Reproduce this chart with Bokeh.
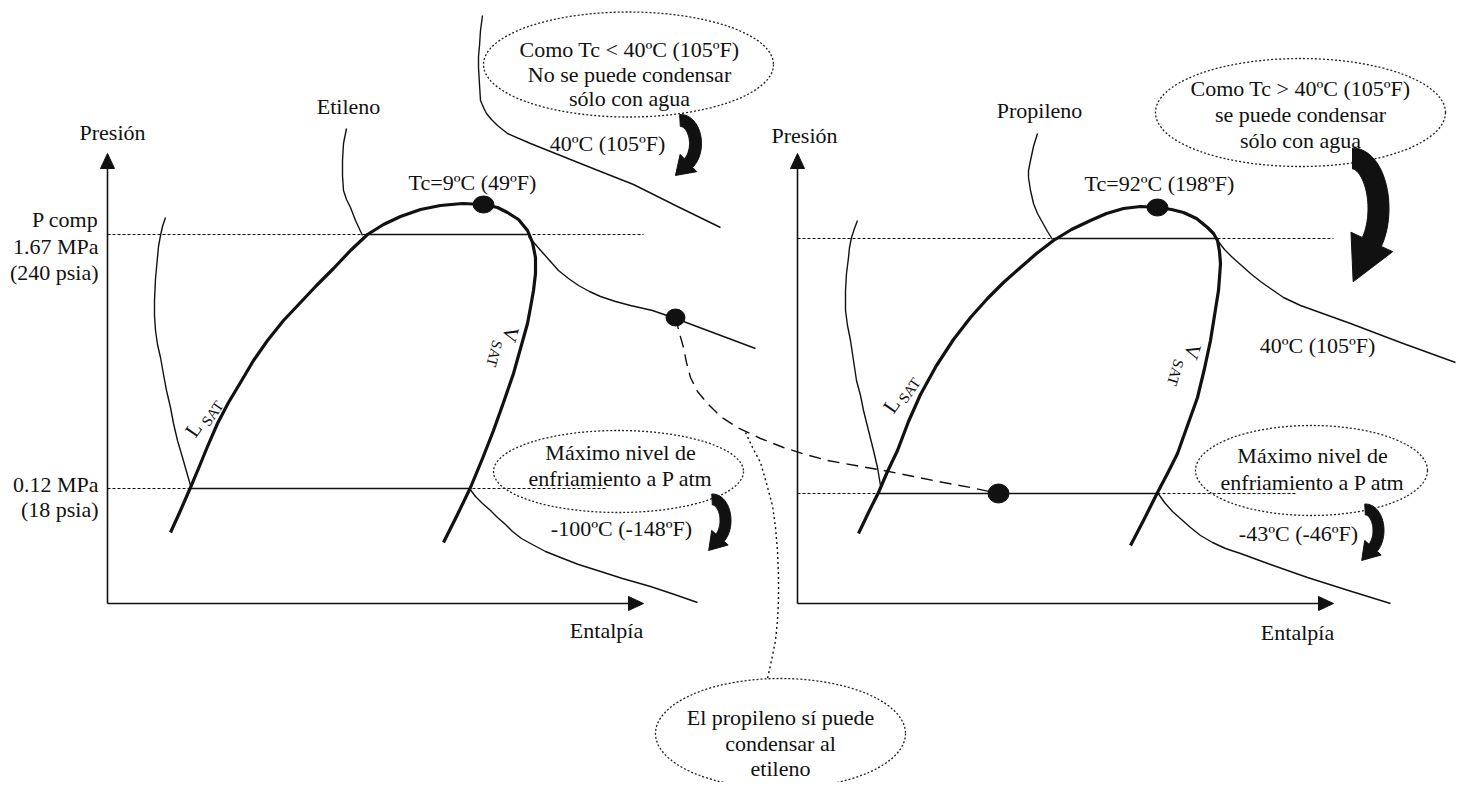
import numpy as np
from bokeh.plotting import figure
from bokeh.models import Range1d
from bokeh.core.properties import value
from bokeh.embed import file_html
from bokeh.resources import INLINE

# ---------------- schematic data (diagram units; y measured downward from the top) ----------------
# Left panel: Etileno
eti_dome_x = [170, 180, 190, 198, 207, 217, 228, 240, 253, 267, 283, 300, 316, 333, 350, 367, 383, 400, 420, 440,
              462, 483, 497, 507, 518, 527, 532, 535, 535, 533, 530, 527, 520, 513, 503, 493, 482, 470, 457, 443]
eti_dome_y = [532, 510, 487, 468, 446, 423, 402, 382, 360, 340, 320, 302, 285, 268, 250, 234, 224, 216, 209, 205,
              203, 204, 207, 212, 219, 230, 242, 257, 273, 290, 307, 323, 348, 373, 402, 430, 458, 487, 514, 542]
eti_liq_x = [165, 162, 160, 158, 157, 155, 154, 154, 155, 157, 160, 163, 166, 170, 173, 177, 182, 186, 190]
eti_liq_y = [217, 226, 235, 246, 257, 278, 300, 315, 330, 344, 357, 374, 390, 407, 423, 440, 457, 471, 485]
eti_leader_x = [346, 343, 342, 342, 343, 346, 350, 355, 362]
eti_leader_y = [128, 143, 160, 175, 190, 199, 207, 220, 235]
eti_iso40_x = [482, 480, 479, 478, 478, 479, 480, 483, 486, 491, 497, 502, 507, 530, 560, 595, 633, 675, 720]
eti_iso40_y = [15, 30, 45, 56, 67, 84, 100, 107, 113, 119, 125, 129, 133, 143, 155, 169, 184, 205, 227]
eti_isoP_x = [528, 535, 542, 550, 558, 568, 578, 589, 600, 615, 630, 652, 675, 715, 755]
eti_isoP_y = [236, 244, 252, 261, 270, 278, 285, 291, 296, 301, 305, 310, 318, 333, 348]
eti_isoL_x = [469, 475, 482, 490, 497, 505, 512, 521, 530, 545, 560, 578, 597, 622, 650, 674, 697]
eti_isoL_y = [488, 496, 503, 510, 517, 524, 531, 538, 543, 551, 557, 564, 570, 578, 586, 594, 602]

# Right panel: Propileno
pro_dome_x = [858, 868, 878, 887, 897, 908, 920, 936, 953, 970, 987, 1003, 1020, 1036, 1053, 1071, 1090, 1106, 1123, 1140,
              1157, 1171, 1183, 1196, 1207, 1213, 1217, 1219, 1220, 1219, 1218, 1214, 1210, 1204, 1197, 1187, 1177, 1167, 1157, 1144, 1130]
pro_dome_y = [533, 512, 492, 471, 450, 421, 394, 365, 339, 317, 298, 282, 267, 253, 240, 229, 220, 213, 208, 206,
              207, 209, 212, 218, 227, 233, 240, 251, 263, 277, 290, 315, 340, 368, 397, 425, 453, 473, 492, 518, 545]
pro_liq_x = [857, 854, 851, 849, 848, 846, 845, 845, 847, 850, 853, 856, 860, 863, 868, 873, 877, 880]
pro_liq_y = [220, 228, 237, 247, 257, 273, 290, 310, 325, 340, 360, 380, 395, 410, 430, 450, 467, 485]
pro_leader_x = [1037, 1033, 1030, 1028, 1028, 1030, 1033, 1037, 1042, 1047, 1052]
pro_leader_y = [133, 146, 160, 170, 177, 190, 203, 213, 222, 231, 239]
pro_isoP_x = [1217, 1224, 1232, 1241, 1250, 1260, 1270, 1283, 1300, 1325, 1350, 1400, 1455]
pro_isoP_y = [240, 249, 257, 265, 273, 281, 288, 297, 305, 314, 323, 342, 362]
pro_isoL_x = [1157, 1164, 1172, 1181, 1190, 1200, 1212, 1225, 1240, 1270, 1307, 1348, 1390]
pro_isoL_y = [492, 502, 511, 519, 527, 535, 542, 548, 553, 564, 577, 590, 603]

# Dashed path ethylene state -> propylene evaporation
path_x = [675, 677, 679, 681, 683, 686, 690, 697, 707, 720, 737, 760, 783, 805, 827, 855, 883, 913, 943, 970, 998]
path_y = [317, 325, 333, 340, 347, 362, 377, 391, 403, 416, 427, 438, 447, 454, 460, 465, 470, 476, 482, 487, 493]
leader_x = [745, 752, 760, 766, 772, 775, 777, 778, 778, 777, 775, 771, 767]
leader_y = [432, 447, 462, 483, 505, 527, 550, 575, 600, 620, 640, 660, 678]

# Axes [x0, y0, x_tip, y_tip]
axes_x0 = [107, 797]
axes_y0 = [603, 603]
axes_xtip = [643, 1333]
axes_ytip = [153, 153]

# Pressure levels (y) and spans
p_levels = [234, 488, 238, 493]
p_dot_x0 = [107, 107, 797, 797]
p_dot_x1 = [643, 605, 1333, 1295]
p_sol_x0 = [365, 190, 1053, 878]
p_sol_x1 = [528, 469, 1217, 1157]

# Black state points
pts_x = [483, 675, 1157, 998]
pts_y = [204, 317, 207, 493]
pts_w = [21, 19, 21, 21]
pts_h = [17, 17, 17, 19]

# Callout ellipses
ell_x = [628, 618, 1300, 1311, 780]
ell_y = [64, 471, 112, 470, 733]
ell_w = [290, 250, 290, 232, 250]
ell_h = [105, 82, 108, 90, 110]

# Curved arrows: centre, radii, start/end angle (deg, clockwise sweep), body width, head half-width, head length
arr_cx = [680, 712, 1352, 1365]
arr_cy = [143, 520, 208, 530]
arr_rx = [15, 13, 26, 13]
arr_ry = [23, 21, 50, 21]
arr_t0 = [92, 92, 90, 92]
arr_t1 = [-58, -55, -42, -55]
arr_w = [12, 11, 21, 11]
arr_hw = [12, 11, 23, 11]
arr_hl = [18, 17, 44, 17]

# Texts
txt = ["Presión", "Presión", "Entalpía", "Entalpía", "Etileno", "Propileno",
       "Tc=9ºC (49ºF)", "Tc=92ºC (198ºF)", "40ºC (105ºF)", "40ºC (105ºF)",
       "-100ºC (-148ºF)", "-43ºC (-46ºF)",
       "Como Tc < 40ºC (105ºF)", "No se puede condensar", "sólo con agua",
       "Como Tc > 40ºC (105ºF)", "se puede condensar", "sólo con agua",
       "Máximo nivel de", "enfriamiento a P atm",
       "Máximo nivel de", "enfriamiento a P atm",
       "El propileno sí puede", "condensar al", "etileno"]
txt_x = [112, 804, 606, 1297, 348, 1039, 472, 1159, 607, 1317, 621, 1298,
         629, 629, 629, 1300, 1300, 1300, 620, 620, 1312, 1312, 780, 780, 780]
txt_y = [132, 135, 630, 632, 106, 110, 182, 183, 143, 345, 528, 533,
         49, 74, 98, 88, 114, 140, 452, 478, 455, 482, 717, 743, 768]
lab_txt = ["P comp", "1.67 MPa", "(240 psia)", "0.12 MPa", "(18 psia)"]
lab_x = [98, 98, 98, 98, 98]
lab_y = [219, 246, 272, 484, 509]

# Saturation labels (main letter + subscript); angles in degrees, counter-clockwise on screen
sat_main = ["L", "V", "L", "V"]
sat_main_x = [193, 510, 891, 1192]
sat_main_y = [429, 334, 405, 351]
sat_sub_x = [212, 494, 909, 1175]
sat_sub_y = [413, 353, 390, 372]
sat_ang = [55, -105, 55, -107]

# ---------------- figure ----------------
W, H = 1460, 782

def fy(ys):
    """diagram y (downward) -> plot y (upward)"""
    return [H - v for v in ys]

p = figure(width=W, height=H, output_backend="svg", toolbar_location=None,
           x_range=Range1d(0, W), y_range=Range1d(0, H),
           x_axis_type=None, y_axis_type=None, min_border=0)
p.grid.visible = False
p.outline_line_color = None
p.background_fill_color = "white"
p.border_fill_color = "white"

FONT = value("Liberation Serif")
INK = "#111111"

# axes with arrowheads
for x0, y0, xt, yt in zip(axes_x0, axes_y0, axes_xtip, axes_ytip):
    p.line([x0, x0], fy([y0, yt + 12]), line_color=INK, line_width=1.6)
    p.line([x0, xt - 12], fy([y0, y0]), line_color=INK, line_width=1.6)
    p.patch([x0 - 7, x0, x0 + 7], fy([yt + 15, yt, yt + 15]), color=INK)
    p.patch([xt - 15, xt, xt - 15], fy([y0 - 7, y0, y0 + 7]), color=INK)

# pressure levels
for yl, a0, a1, s0, s1 in zip(p_levels, p_dot_x0, p_dot_x1, p_sol_x0, p_sol_x1):
    p.line([a0, a1], fy([yl, yl]), line_color=INK, line_width=1.2, line_dash="3 2")
    p.line([s0, s1], fy([yl, yl]), line_color=INK, line_width=1.6)

# thin curves
for xs, ys in [(eti_liq_x, eti_liq_y), (eti_leader_x, eti_leader_y), (eti_iso40_x, eti_iso40_y),
               (eti_isoP_x, eti_isoP_y), (eti_isoL_x, eti_isoL_y),
               (pro_liq_x, pro_liq_y), (pro_leader_x, pro_leader_y),
               (pro_isoP_x, pro_isoP_y), (pro_isoL_x, pro_isoL_y)]:
    p.line(xs, fy(ys), line_color=INK, line_width=1.4, line_join="round")

# domes
p.line(eti_dome_x, fy(eti_dome_y), line_color=INK, line_width=3.2, line_join="round")
p.line(pro_dome_x, fy(pro_dome_y), line_color=INK, line_width=3.2, line_join="round")

# dashed path + dotted leader
p.line(path_x, fy(path_y), line_color=INK, line_width=1.4, line_dash="12 7")
p.line(leader_x, fy(leader_y), line_color=INK, line_width=1.4, line_dash="2 3")

# callout ellipses
p.ellipse(ell_x, fy(ell_y), width=ell_w, height=ell_h, fill_color=None,
          line_color="#222222", line_width=1.3, line_dash="2 2")

# state points
p.ellipse(pts_x, fy(pts_y), width=pts_w, height=pts_h, fill_color=INK, line_color=INK)

# curved arrows (built in diagram coords, y downward)
def curved_arrow(cx, cy, rx, ry, t0, t1, w, hw, hl):
    t = np.radians(np.linspace(t0, t1, 40))
    cxs = cx + rx * np.cos(t)
    cys = cy - ry * np.sin(t)
    tx = rx * np.sin(t)
    ty = ry * np.cos(t)
    nrm = np.hypot(tx, ty)
    ux, uy = tx / nrm, ty / nrm
    nx, ny = -uy, ux
    ox, oy = cxs + nx * w / 2, cys + ny * w / 2
    ix, iy = cxs - nx * w / 2, cys - ny * w / 2
    ex, ey = cxs[-1], cys[-1]
    hx = [ex + nx[-1] * hw, ex + ux[-1] * hl, ex - nx[-1] * hw]
    hy = [ey + ny[-1] * hw, ey + uy[-1] * hl, ey - ny[-1] * hw]
    xs = list(ox) + hx + list(ix[::-1])
    ys = list(oy) + hy + list(iy[::-1])
    return xs, ys

for args in zip(arr_cx, arr_cy, arr_rx, arr_ry, arr_t0, arr_t1, arr_w, arr_hw, arr_hl):
    xs, ys = curved_arrow(*args)
    p.patch(xs, fy(ys), fill_color=INK, line_color=INK, line_width=1)

# texts
p.text(txt_x, fy(txt_y), text=txt, text_font=FONT, text_font_size="22px",
       text_align="center", text_baseline="middle", text_color=INK)
p.text(lab_x, fy(lab_y), text=lab_txt, text_font=FONT, text_font_size="22px",
       text_align="right", text_baseline="middle", text_color=INK)
p.text(sat_main_x, fy(sat_main_y), text=sat_main, angle=sat_ang, angle_units="deg",
       text_font=FONT, text_font_size="21px", text_align="center",
       text_baseline="middle", text_color=INK)
p.text(sat_sub_x, fy(sat_sub_y), text=["SAT"] * 4, angle=sat_ang, angle_units="deg",
       text_font=FONT, text_font_size="15px", text_align="center",
       text_baseline="middle", text_color=INK)

open("out.html", "w").write(file_html(p, INLINE))
